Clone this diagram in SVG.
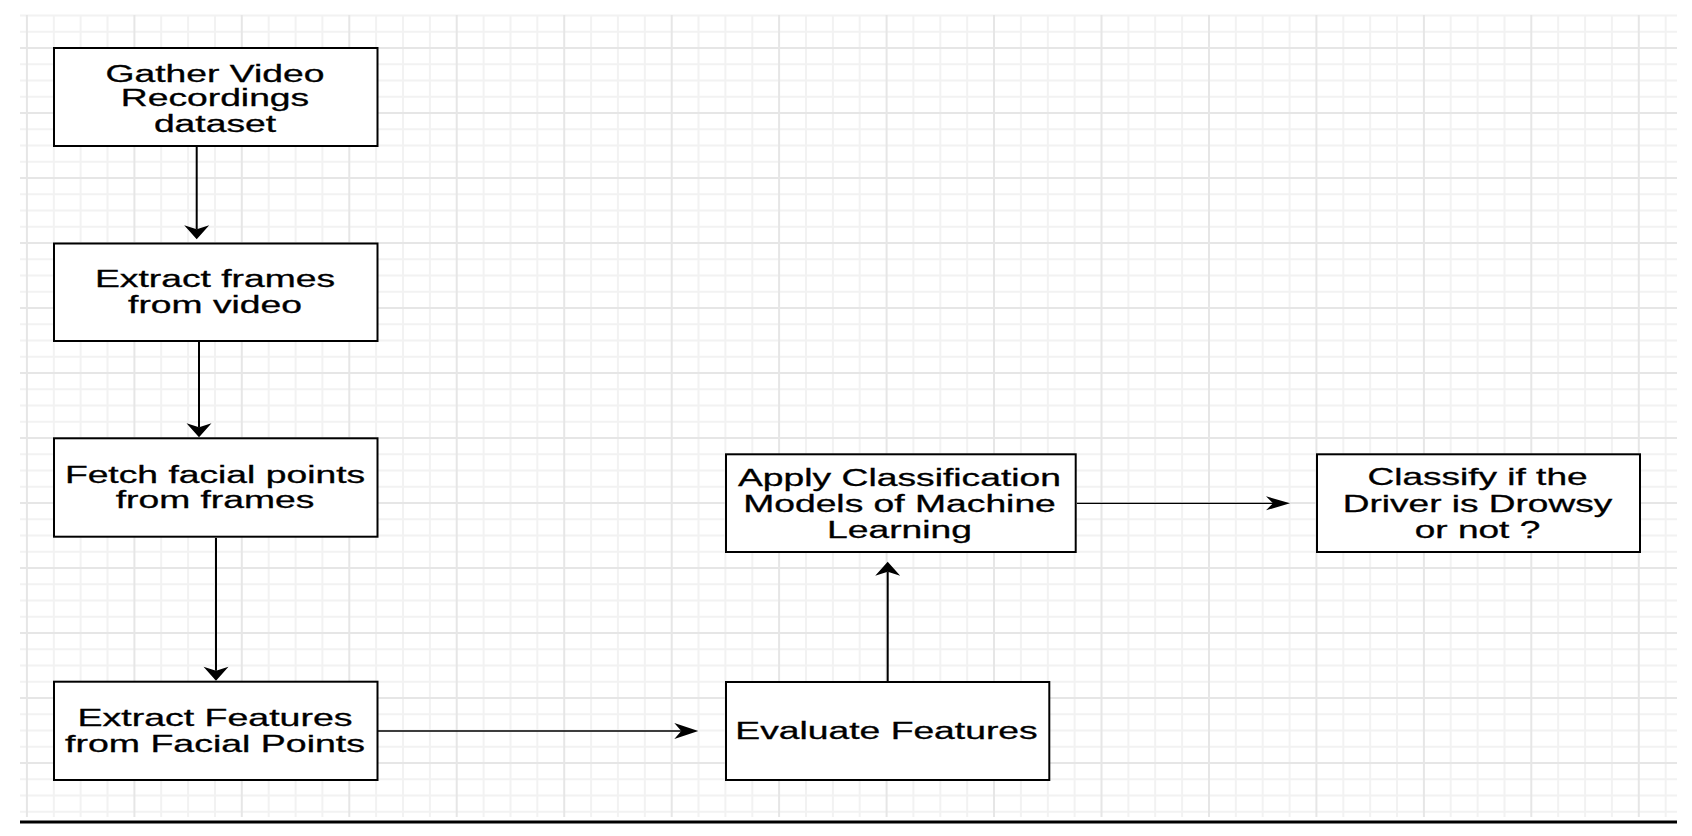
<svg xmlns="http://www.w3.org/2000/svg" width="1692" height="836" viewBox="0 0 1692 836">
<style>
.minor{stroke:#f2f2f2;stroke-width:2;fill:none}
.major{stroke:#e6e6e6;stroke-width:2;fill:none}
.box{fill:#fff;stroke:#000;stroke-width:2}
.t{font-family:"Liberation Sans",Arial,Helvetica,sans-serif;font-size:23px;fill:#000;stroke:#000;stroke-width:0.3;text-anchor:middle;font-variant-ligatures:none}
.c{fill:none;stroke:#000}
</style>
<defs>
<marker id="av" markerUnits="userSpaceOnUse" markerWidth="14" markerHeight="25" refX="4" refY="12.5" orient="auto" overflow="visible">
<path d="M0 0 L14 12.5 L0 25 L4 12.5 Z" fill="#000"/>
</marker>
<marker id="ah" markerUnits="userSpaceOnUse" markerWidth="24" markerHeight="16" refX="7" refY="8" orient="auto" overflow="visible">
<path d="M0 0 L24 8 L0 16 L7 8 Z" fill="#000"/>
</marker>
<marker id="ah2" markerUnits="userSpaceOnUse" markerWidth="24" markerHeight="14" refX="7" refY="7" orient="auto" overflow="visible">
<path d="M0 0 L24 7 L0 14 L7 7 Z" fill="#000"/>
</marker>
</defs>
<rect width="1692" height="836" fill="#fff"/>
<g id="grid">
<path class="minor" d="M20 15.5H1677M20 31.75H1677M20 64.25H1677M20 80.5H1677M20 96.75H1677M20 129.25H1677M20 145.5H1677M20 161.75H1677M20 194.25H1677M20 210.5H1677M20 226.75H1677M20 259.25H1677M20 275.5H1677M20 291.75H1677M20 324.25H1677M20 340.5H1677M20 356.75H1677M20 389.25H1677M20 405.5H1677M20 421.75H1677M20 454.25H1677M20 470.5H1677M20 486.75H1677M20 519.25H1677M20 535.5H1677M20 551.75H1677M20 584.25H1677M20 600.5H1677M20 616.75H1677M20 649.25H1677M20 665.5H1677M20 681.75H1677M20 714.25H1677M20 730.5H1677M20 746.75H1677M20 779.25H1677M20 795.5H1677M20 811.75H1677"/>
<path class="minor" d="M53.8 15V817M80.6 15V817M107.5 15V817M161.2 15V817M188.1 15V817M215 15V817M268.7 15V817M295.6 15V817M322.4 15V817M376.1 15V817M403 15V817M429.9 15V817M483.6 15V817M510.5 15V817M537.3 15V817M591.1 15V817M617.9 15V817M644.8 15V817M698.5 15V817M725.4 15V817M752.3 15V817M806 15V817M832.9 15V817M859.7 15V817M913.4 15V817M940.3 15V817M967.2 15V817M1020.9 15V817M1047.8 15V817M1074.6 15V817M1128.4 15V817M1155.2 15V817M1182.1 15V817M1235.8 15V817M1262.7 15V817M1289.6 15V817M1343.3 15V817M1370.2 15V817M1397 15V817M1450.7 15V817M1477.6 15V817M1504.5 15V817M1558.2 15V817M1585.1 15V817M1611.9 15V817M1665.7 15V817"/>
<path class="major" d="M20 48H1677M20 113H1677M20 178H1677M20 243H1677M20 308H1677M20 373H1677M20 438H1677M20 503H1677M20 568H1677M20 633H1677M20 698H1677M20 763H1677"/>
<path class="major" d="M26.9 15V817M134.4 15V817M241.8 15V817M349.3 15V817M456.7 15V817M564.2 15V817M671.7 15V817M779.1 15V817M886.6 15V817M994 15V817M1101.5 15V817M1209 15V817M1316.4 15V817M1423.9 15V817M1531.3 15V817M1638.8 15V817"/>
</g>
<path d="M20 822H1677" stroke="#000" stroke-width="3"/>
<g id="connectors">
<path class="c" stroke-width="2" d="M196.7 147V229.3" marker-end="url(#av)"/>
<path class="c" stroke-width="2" d="M199 342V427.3" marker-end="url(#av)"/>
<path class="c" stroke-width="2" d="M216 538V670.7" marker-end="url(#av)"/>
<path class="c" stroke-width="2" d="M887.7 681V571.7" marker-end="url(#av)"/>
<path class="c" stroke-width="1.6" d="M378 731H681.3" marker-end="url(#ah)"/>
<path class="c" stroke-width="1.2" d="M1077 503.3H1273" marker-end="url(#ah2)"/>
</g>
<g id="n1">
<rect class="box" x="54" y="48" width="323.5" height="98"/>
<text class="t" transform="translate(215 0) scale(1.62 1)"><tspan x="0" y="81.7">Gather Video</tspan><tspan x="0" y="106.5">Recordings</tspan><tspan x="0" y="131.7">dataset</tspan></text>
</g>
<g id="n2">
<rect class="box" x="54" y="243.5" width="323.5" height="97.5"/>
<text class="t" transform="translate(215 0) scale(1.62 1)"><tspan x="0" y="287.5">Extract frames</tspan><tspan x="0" y="313">from video</tspan></text>
</g>
<g id="n3">
<rect class="box" x="54" y="438.3" width="323.5" height="98.4"/>
<text class="t" transform="translate(215 0) scale(1.62 1)"><tspan x="0" y="482.7">Fetch facial points</tspan><tspan x="0" y="508.3">from frames</tspan></text>
</g>
<g id="n4">
<rect class="box" x="54" y="681.7" width="323.5" height="98.3"/>
<text class="t" transform="translate(215 0) scale(1.63 1)"><tspan x="0" y="726">Extract Features</tspan><tspan x="0" y="751.7">from Facial Points</tspan></text>
</g>
<g id="n5">
<rect class="box" x="726" y="682" width="323.3" height="98"/>
<text class="t" transform="translate(886.5 0) scale(1.62 1)"><tspan x="0" y="739">Evaluate Features</tspan></text>
</g>
<g id="n6">
<rect class="box" x="726" y="454.3" width="349.7" height="97.7"/>
<text class="t" transform="translate(899.5 0) scale(1.62 1)"><tspan x="0" y="486">Apply Classification</tspan><tspan x="0" y="511.7">Models of Machine</tspan><tspan x="0" y="538.3">Learning</tspan></text>
</g>
<g id="n7">
<rect class="box" x="1317" y="454.3" width="323" height="97.7"/>
<text class="t" transform="translate(1477.5 0) scale(1.61 1)"><tspan x="0" y="485">Classify if the</tspan><tspan x="0" y="511.7">Driver is Drowsy</tspan><tspan x="0" y="538.3">or not ?</tspan></text>
</g>
</svg>
